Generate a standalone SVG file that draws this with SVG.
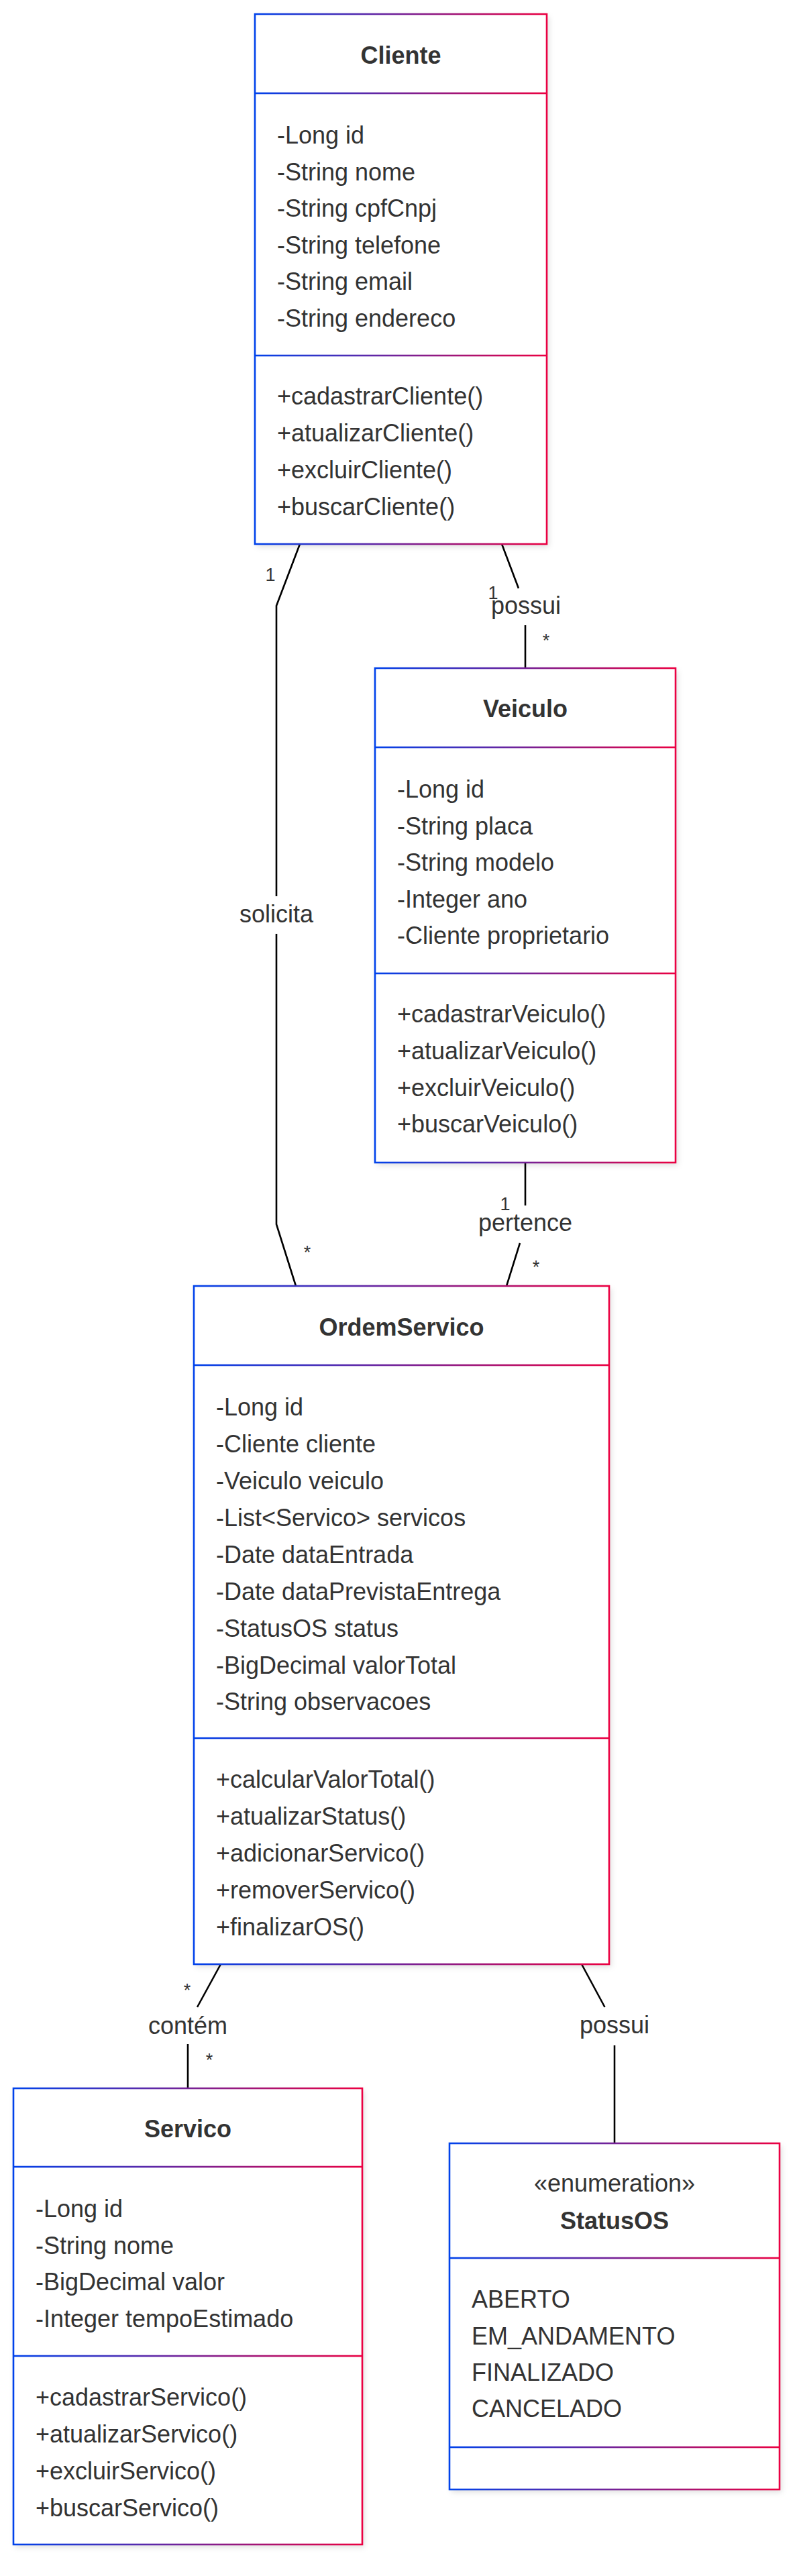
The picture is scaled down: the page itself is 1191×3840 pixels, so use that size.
<svg xmlns="http://www.w3.org/2000/svg" width="1191" height="3840" viewBox="0 0 1191 3840">
<defs>
<linearGradient id="grad" x1="0" y1="0" x2="1" y2="0">
<stop offset="0" stop-color="#0042eb"/>
<stop offset="1" stop-color="#eb0042"/>
</linearGradient>
<filter id="sh" x="-10%" y="-10%" width="120%" height="120%">
<feDropShadow dx="3" dy="4" stdDeviation="4" flood-color="#000" flood-opacity="0.13"/>
</filter>
</defs>
<style>
.bg{fill:#ffffff;filter:url(#sh);}
.box{fill:none;stroke:url(#grad);stroke-width:2.6;}
.div{fill:url(#grad);}
text{font-family:"Liberation Sans",Arial,sans-serif;fill:#333333;}
.t{font-size:36px;font-weight:bold;text-anchor:middle;}
.st{font-size:36px;text-anchor:middle;}
.m{font-size:36px;}
.lbl{font-size:36px;text-anchor:middle;}
.card{font-size:27px;text-anchor:middle;}
.edge{fill:none;stroke:#000000;stroke-width:2.6;}
</style>
<rect width="1191" height="3840" fill="#ffffff"/>

<g id="connectors">
<path class="edge" d="M447,811 L412,903 L412,1336"/>
<path class="edge" d="M412,1392 L412,1825 L441,1917"/>
<path class="edge" d="M748,811 L773,877"/>
<path class="edge" d="M783,932 L783,996"/>
<path class="edge" d="M783,1733 L783,1797"/>
<path class="edge" d="M775,1853 L755,1917"/>
<path class="edge" d="M329,2928 L294,2992"/>
<path class="edge" d="M280,3047 L280,3113"/>
<path class="edge" d="M867,2928 L901.5,2992"/>
<path class="edge" d="M916,3049 L916,3195"/>
<text class="lbl" x="412" y="1375">solicita</text>
<text class="lbl" x="784" y="915">possui</text>
<text class="lbl" x="783" y="1835">pertence</text>
<text class="lbl" x="280" y="3032">contém</text>
<text class="lbl" x="916" y="3031">possui</text>
<text class="card" x="403" y="866">1</text>
<text class="card" x="458" y="1876">*</text>
<text class="card" x="735" y="893">1</text>
<text class="card" x="814" y="964">*</text>
<text class="card" x="753" y="1804">1</text>
<text class="card" x="799" y="1898">*</text>
<text class="card" x="279" y="2976">*</text>
<text class="card" x="312" y="3080">*</text>
</g>

<g id="Cliente">
<rect class="bg" x="380" y="21" width="435" height="790"/>
<rect class="div" x="380" y="137.7" width="435" height="2.6"/>
<rect class="div" x="380" y="528.7" width="435" height="2.6"/>
<rect class="box" x="380" y="21" width="435" height="790"/>
<text class="t" x="597.5" y="95">Cliente</text>
<text class="m" x="413" y="214">-Long id</text>
<text class="m" x="413" y="268.5">-String nome</text>
<text class="m" x="413" y="323">-String cpfCnpj</text>
<text class="m" x="413" y="377.5">-String telefone</text>
<text class="m" x="413" y="432">-String email</text>
<text class="m" x="413" y="486.5">-String endereco</text>
<text class="m" x="413" y="603">+cadastrarCliente()</text>
<text class="m" x="413" y="658">+atualizarCliente()</text>
<text class="m" x="413" y="713">+excluirCliente()</text>
<text class="m" x="413" y="768">+buscarCliente()</text>
</g>

<g id="Veiculo">
<rect class="bg" x="559" y="996" width="448" height="737"/>
<rect class="div" x="559" y="1112.7" width="448" height="2.6"/>
<rect class="div" x="559" y="1449.7" width="448" height="2.6"/>
<rect class="box" x="559" y="996" width="448" height="737"/>
<text class="t" x="783" y="1069">Veiculo</text>
<text class="m" x="592" y="1189">-Long id</text>
<text class="m" x="592" y="1243.5">-String placa</text>
<text class="m" x="592" y="1298">-String modelo</text>
<text class="m" x="592" y="1352.5">-Integer ano</text>
<text class="m" x="592" y="1407">-Cliente proprietario</text>
<text class="m" x="592" y="1524">+cadastrarVeiculo()</text>
<text class="m" x="592" y="1579">+atualizarVeiculo()</text>
<text class="m" x="592" y="1634">+excluirVeiculo()</text>
<text class="m" x="592" y="1688">+buscarVeiculo()</text>
</g>

<g id="OrdemServico">
<rect class="bg" x="289" y="1917" width="619" height="1011"/>
<rect class="div" x="289" y="2033.7" width="619" height="2.6"/>
<rect class="div" x="289" y="2589.7" width="619" height="2.6"/>
<rect class="box" x="289" y="1917" width="619" height="1011"/>
<text class="t" x="598.5" y="1991">OrdemServico</text>
<text class="m" x="322" y="2110">-Long id</text>
<text class="m" x="322" y="2165">-Cliente cliente</text>
<text class="m" x="322" y="2220">-Veiculo veiculo</text>
<text class="m" x="322" y="2275">-List&lt;Servico&gt; servicos</text>
<text class="m" x="322" y="2330">-Date dataEntrada</text>
<text class="m" x="322" y="2385">-Date dataPrevistaEntrega</text>
<text class="m" x="322" y="2440">-StatusOS status</text>
<text class="m" x="322" y="2495">-BigDecimal valorTotal</text>
<text class="m" x="322" y="2549">-String observacoes</text>
<text class="m" x="322" y="2665">+calcularValorTotal()</text>
<text class="m" x="322" y="2720">+atualizarStatus()</text>
<text class="m" x="322" y="2775">+adicionarServico()</text>
<text class="m" x="322" y="2830">+removerServico()</text>
<text class="m" x="322" y="2885">+finalizarOS()</text>
</g>

<g id="Servico">
<rect class="bg" x="20" y="3113" width="520" height="680"/>
<rect class="div" x="20" y="3228.7" width="520" height="2.6"/>
<rect class="div" x="20" y="3510.7" width="520" height="2.6"/>
<rect class="box" x="20" y="3113" width="520" height="680"/>
<text class="t" x="280" y="3186">Servico</text>
<text class="m" x="53" y="3305">-Long id</text>
<text class="m" x="53" y="3360">-String nome</text>
<text class="m" x="53" y="3414">-BigDecimal valor</text>
<text class="m" x="53" y="3469">-Integer tempoEstimado</text>
<text class="m" x="53" y="3586">+cadastrarServico()</text>
<text class="m" x="53" y="3641">+atualizarServico()</text>
<text class="m" x="53" y="3696">+excluirServico()</text>
<text class="m" x="53" y="3751">+buscarServico()</text>
</g>

<g id="StatusOS">
<rect class="bg" x="670" y="3195" width="492" height="516"/>
<rect class="div" x="670" y="3364.7" width="492" height="2.6"/>
<rect class="div" x="670" y="3646.7" width="492" height="2.6"/>
<rect class="box" x="670" y="3195" width="492" height="516"/>
<text class="st" x="916" y="3267">«enumeration»</text>
<text class="t" x="916" y="3323">StatusOS</text>
<text class="m" x="703" y="3440">ABERTO</text>
<text class="m" x="703" y="3494.5">EM_ANDAMENTO</text>
<text class="m" x="703" y="3549">FINALIZADO</text>
<text class="m" x="703" y="3603">CANCELADO</text>
</g>
</svg>
